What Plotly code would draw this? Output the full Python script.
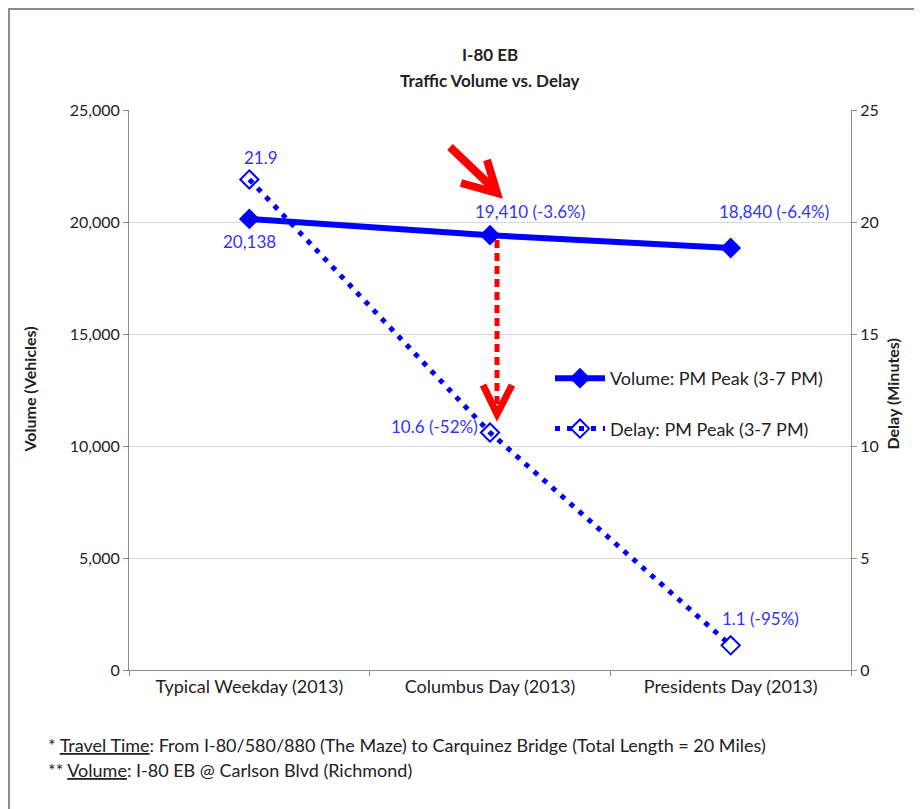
import plotly.graph_objects as go

categories = ["Typical Weekday (2013)", "Columbus Day (2013)", "Presidents Day (2013)"]
volume = [20138, 19410, 18840]
delay = [21.9, 10.6, 1.1]
volume_labels = ["20,138", "19,410 (-3.6%)", "18,840 (-6.4%)"]
delay_labels = ["21.9", "10.6 (-52%)", "1.1 (-95%)"]
vol_ticks = [0, 5000, 10000, 15000, 20000, 25000]
vol_ticktext = ["0", "5,000", "10,000", "15,000", "20,000", "25,000"]
delay_ticks = [0, 5, 10, 15, 20, 25]

OFF = 8  # page body margin
W, H = 914, 801
# plot area in page pixels
PL, PR, PT, PB = 129, 851, 110, 670
FONT = "Lato"
BLUE = "#0000FF"
LBLUE = "#3333FF"
TXT = "#222222"


def px(x):
    return (x - PL) / (PR - PL)


def py(y):
    return (PB - y) / (PB - PT)


fig = go.Figure()
fig.add_trace(go.Scatter(
    x=categories, y=volume, name="Volume: PM Peak (3-7 PM)", mode="lines+markers",
    line=dict(color=BLUE, width=6), marker=dict(symbol="diamond", size=16, color=BLUE),
    legendgroup="a", yaxis="y"))
fig.add_trace(go.Scatter(
    x=categories, y=delay, name="Delay: PM Peak (3-7 PM)", mode="lines+markers",
    line=dict(color=BLUE, width=5, dash="5px,7px"),
    marker=dict(symbol="diamond-open", size=14, color=BLUE, line=dict(width=2)),
    legendgroup="b", yaxis="y2"))

annotations = []
vol_pos = [("center", 0, -23), ("left", -17, 24), ("left", -14, 36)]
for c, v, t, (anc, dx, dy) in zip(categories, volume, volume_labels, vol_pos):
    annotations.append(dict(x=c, y=v, xref="x", yref="y", text=t, showarrow=False, xanchor=anc,
                            xshift=dx, yshift=dy, font=dict(family=FONT, size=17, color=LBLUE)))
del_pos = [("center", 12, 22), ("right", -10, 6), ("left", -11, 27)]
for c, v, t, (anc, dx, dy) in zip(categories, delay, delay_labels, del_pos):
    annotations.append(dict(x=c, y=v, xref="x", yref="y2", text=t, showarrow=False, xanchor=anc,
                            xshift=dx, yshift=dy, font=dict(family=FONT, size=17, color=LBLUE)))

# title lines
annotations.append(dict(x=px(490), y=py(42), xref="paper", yref="paper", text="<b>I-80 EB</b>",
                        showarrow=False, font=dict(family=FONT, size=17, color=TXT)))
annotations.append(dict(x=px(490), y=py(68), xref="paper", yref="paper",
                        text="<b>Traffic Volume vs. Delay</b>",
                        showarrow=False, font=dict(family=FONT, size=17, color=TXT)))
# axis titles
annotations.append(dict(x=px(17), y=py(390), xref="paper", yref="paper",
                        text="<b>Volume (Vehicles)</b>", textangle=-90,
                        showarrow=False, font=dict(family=FONT, size=16, color=TXT)))
annotations.append(dict(x=px(903), y=py(394), xref="paper", yref="paper",
                        text="<b>Delay (Minutes)</b>", textangle=-90,
                        showarrow=False, font=dict(family=FONT, size=16, color=TXT)))
# footnotes
annotations.append(dict(
    x=px(46), y=py(745), xref="paper", yref="paper", xanchor="left", yanchor="middle",
    text="* <u>Travel Time</u>: From I-80/580/880 (The Maze) to Carquinez Bridge (Total Length = 20 Miles)",
    showarrow=False, font=dict(family=FONT, size=18, color=TXT)))
annotations.append(dict(
    x=px(46), y=py(770), xref="paper", yref="paper", xanchor="left", yanchor="middle",
    text="** <u>Volume</u>: I-80 EB @ Carlson Blvd (Richmond)",
    showarrow=False, font=dict(family=FONT, size=18, color=TXT)))

RED = "#FF0000"
shapes = [
    dict(type="rect", xref="paper", yref="paper", x0=px(OFF + 1), x1=px(918), y0=py(OFF + 1),
         y1=py(830), line=dict(color="#8c8c8c", width=2), layer="below"),
    dict(type="line", xref="paper", yref="paper", x0=px(450), y0=py(147), x1=px(494), y1=py(189),
         line=dict(color=RED, width=8)),
    dict(type="path", xref="paper", yref="paper",
         path=f"M {px(461)} {py(183)} L {px(497)} {py(193)} L {px(487)} {py(160)}",
         line=dict(color=RED, width=8)),
    dict(type="line", xref="paper", yref="paper", x0=px(497), y0=py(240), x1=px(497), y1=py(405),
         line=dict(color=RED, width=5, dash="8px,5px")),
    dict(type="path", xref="paper", yref="paper",
         path=f"M {px(483)} {py(385)} L {px(497)} {py(414)} L {px(512)} {py(385)}",
         line=dict(color=RED, width=7)),
]

fig.update_layout(
    width=W, height=H,
    margin=dict(l=PL - OFF, r=W - (PR - OFF), t=PT - OFF, b=H - (PB - OFF), autoexpand=False),
    paper_bgcolor="white", plot_bgcolor="white",
    font=dict(family=FONT, size=17, color=TXT),
    xaxis=dict(type="category", range=[-0.5, 2.5], showline=True, linecolor="#8c8c8c", linewidth=1,
               ticks="outside", tickson="boundaries", ticklen=5, tickcolor="#8c8c8c",
               showgrid=False, tickfont=dict(size=18), zeroline=False),
    yaxis=dict(range=[0, 25000], tickvals=vol_ticks, ticktext=vol_ticktext, showline=True,
               linecolor="#8c8c8c", ticks="outside", ticklen=5, tickcolor="#8c8c8c",
               gridcolor="#d9d9d9", gridwidth=1, zeroline=False, tickfont=dict(size=16)),
    yaxis2=dict(range=[0, 25], tickvals=delay_ticks, overlaying="y", side="right", showline=True,
                linecolor="#8c8c8c", ticks="outside", ticklen=5, tickcolor="#8c8c8c",
                showgrid=False, zeroline=False, tickfont=dict(size=16)),
    legend=dict(x=px(550), y=py(360), xanchor="left", yanchor="top", bgcolor="rgba(0,0,0,0)",
                traceorder="grouped", tracegroupgap=24, itemwidth=50,
                font=dict(family=FONT, size=18, color=TXT)),
    annotations=annotations,
    shapes=shapes,
)

fig.write_html("out.html")
